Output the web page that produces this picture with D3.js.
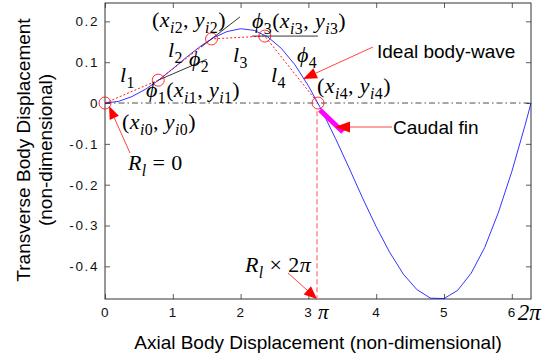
<!DOCTYPE html>
<html><head><meta charset="utf-8">
<script src="https://cdn.jsdelivr.net/npm/d3@7"></script>
<style>html,body{margin:0;padding:0;background:#fff;}</style>
</head><body>
<svg id="c" width="551" height="363"></svg>
<script>
// ---- data ----
const waveX = [0,0.2,0.4,0.6,0.8,1.0,1.2,1.4,1.6,1.8,2.0,2.2,2.4,2.6,2.8,3.0,3.2,3.4,3.6,3.8,4.0,4.2,4.4,4.6,4.8,5.0,5.2,5.4,5.6,5.8,6.0,6.2,6.283];
const waveY = [0,0.004,0.016,0.034,0.057,0.084,0.112,0.138,0.160,0.175,0.182,0.178,0.162,0.134,0.094,0.042,-0.019,-0.087,-0.159,-0.233,-0.303,-0.366,-0.419,-0.457,-0.478,-0.479,-0.459,-0.417,-0.354,-0.269,-0.168,-0.052,0];
const jointX = [0, 0.785, 1.571, 2.356, 3.142];
const jointY = [0, 0.056, 0.157, 0.164, 0];
const finX = [3.17, 3.51];
const finY = [-0.017, -0.071];
const xTicks = [0,1,2,3,4,5,6];
const xTickLabels = ["0","1","2","3","4","5","6"];
const yTicks = [0.2,0.1,0,-0.1,-0.2,-0.3,-0.4];
const yTickLabels = ["0.2","0.1","0","-0.1","-0.2","-0.3","-0.4"];
const xDomain = [0, 2*Math.PI];
const yDomain = [-0.48, 0.245];

const svg = d3.select("#c");
const L=105, R=531, T=3, B=299;
const x = d3.scaleLinear().domain(xDomain).range([L,R]);
const y = d3.scaleLinear().domain(yDomain).range([B,T]);
const SANS = "'Liberation Sans', Arial, Helvetica, sans-serif";
const SERIF = "'Liberation Serif', 'DejaVu Serif', 'Times New Roman', serif";
const red = "#ff0000";

// axes
const ax = svg.append("g").attr("transform",`translate(0,${B})`)
  .call(d3.axisBottom(x).tickValues(xTicks).tickFormat((d,i)=>xTickLabels[i]).tickSize(-5).tickPadding(8));
const axT = svg.append("g").attr("transform",`translate(0,${T})`)
  .call(d3.axisTop(x).tickValues(xTicks).tickFormat("").tickSize(-5));
const ay = svg.append("g").attr("transform",`translate(${L},0)`)
  .call(d3.axisLeft(y).tickValues(yTicks).tickFormat((d,i)=>yTickLabels[i]).tickSize(-5).tickPadding(6));
const ayR = svg.append("g").attr("transform",`translate(${R},0)`)
  .call(d3.axisRight(y).tickValues(yTicks).tickFormat("").tickSize(-5));
[ax,axT,ay,ayR].forEach(g=>{
  g.select(".domain").remove();
  g.selectAll(".tick line").attr("stroke","#333").attr("stroke-width",0.8);
  g.selectAll(".tick text").attr("font-family",SANS).attr("font-size",13.5).attr("fill","#111").attr("letter-spacing","1.6px");
});
svg.append("rect").attr("x",L).attr("y",T).attr("width",R-L).attr("height",B-T)
  .attr("fill","none").attr("stroke","#333").attr("stroke-width",1);

// extra pi tick labels
svg.append("text").attr("x",x(Math.PI)).attr("y",319).attr("font-family",SERIF).attr("font-style","italic").attr("font-size",21).text("π");
svg.append("text").attr("x",x(6)+6).attr("y",320).attr("font-family",SERIF).attr("font-style","italic").attr("font-size",23).text("2π");

// zero dash-dot line
svg.append("line").attr("x1",L).attr("x2",R).attr("y1",y(0)).attr("y2",y(0))
  .attr("stroke","#222").attr("stroke-width",0.8).attr("stroke-dasharray","6,3,1.5,3");

// pink dashed vertical at pi
svg.append("line").attr("x1",x(Math.PI)-1).attr("x2",x(Math.PI)-1).attr("y1",y(-0.02)).attr("y2",B)
  .attr("stroke","#ff8080").attr("stroke-width",1.4).attr("stroke-dasharray","5,3");

// black extension lines
const seg = (x1,y1,x2,y2)=>svg.append("line").attr("x1",x(x1)).attr("y1",y(y1)).attr("x2",x(x2)).attr("y2",y(y2))
  .attr("stroke","#000").attr("stroke-width",0.8);
{
  const s1 = (jointY[1]-jointY[0])/(jointX[1]-jointX[0]);
  seg(jointX[1],jointY[1],1.5,jointY[1]+s1*(1.5-jointX[1]));
  const s2 = (jointY[2]-jointY[1])/(jointX[2]-jointX[1]);
  seg(1.42,jointY[2]+s2*(1.42-jointX[2]),1.99,jointY[2]+s2*(1.99-jointX[2]));
  seg(2.17,jointY[3],3.14,jointY[3]);
}

// ideal wave
const pts = waveX.map((d,i)=>[d,waveY[i]]);
svg.append("path").attr("d",d3.line().x(d=>x(d[0])).y(d=>y(d[1]))(pts))
  .attr("fill","none").attr("stroke","#0000ff").attr("stroke-width",0.8);

// chord polyline
const jp = jointX.map((d,i)=>[d,jointY[i]]);
svg.append("path").attr("d",d3.line().x(d=>x(d[0])).y(d=>y(d[1]))(jp))
  .attr("fill","none").attr("stroke",red).attr("stroke-width",0.9).attr("stroke-dasharray","2,2");
svg.selectAll("circle.j").data(jp).enter().append("circle").attr("class","j")
  .attr("cx",d=>x(d[0])).attr("cy",d=>y(d[1])).attr("r",6)
  .attr("fill","none").attr("stroke",red).attr("stroke-width",0.8);

// caudal fin
svg.append("line").attr("x1",x(finX[0])).attr("y1",y(finY[0])).attr("x2",x(finX[1])).attr("y2",y(finY[1]))
  .attr("stroke","#ff00ff").attr("stroke-width",5);

// arrows
function arrow(x1,y1,x2,y2,hl,hw){
  const dx=x2-x1, dy=y2-y1, len=Math.hypot(dx,dy), ux=dx/len, uy=dy/len;
  const bx=x2-ux*hl, by=y2-uy*hl;
  svg.append("line").attr("x1",x1).attr("y1",y1).attr("x2",bx).attr("y2",by).attr("stroke","#ff3030").attr("stroke-width",0.9);
  svg.append("path").attr("d",`M${x2},${y2}L${bx-uy*hw/2},${by+ux*hw/2}L${bx+uy*hw/2},${by-ux*hw/2}Z`).attr("fill",red);
}
arrow(130,153,x(0)+4,y(0)+3,13,10);
arrow(288,273,x(Math.PI)-1,B,13,11);
arrow(373,47,303,79,14,11);
arrow(392,127,335,127,15,11);

// math text helper
function mt(px,py,parts,size){
  const t = svg.append("text").attr("x",px).attr("y",py).attr("font-family",SERIF).attr("font-size",size)
    .attr("fill","#000").attr("letter-spacing","0.4px");
  let sub=false;
  parts.forEach(p=>{
    const ts=t.append("tspan").text(p.t);
    if(p.i) ts.attr("font-style","italic");
    if(p.s){ ts.attr("font-size",size*0.72); if(!sub){ts.attr("dy",size*0.28); sub=true;} }
    else if(sub){ ts.attr("dy",-size*0.28); sub=false; }
  });
  return t;
}
const pair = (k)=>[{t:"("},{t:"x",i:1},{t:"i",i:1,s:1},{t:k,s:1},{t:", "},{t:"y",i:1},{t:"i",i:1,s:1},{t:k,s:1},{t:")"}];
const FS=22;
mt(152,27,pair("2"),FS);
mt(252,28,[{t:"ϕ",i:1},{t:"3",s:1}].concat(pair("3")),FS);
mt(146,97,[{t:"ϕ",i:1},{t:"1",s:1}].concat(pair("1")),FS);
mt(122,129,pair("0"),FS);
mt(317,93,pair("4"),FS);
mt(120,82,[{t:"l",i:1},{t:"1",s:1}],FS);
mt(168,57,[{t:"l",i:1},{t:"2",s:1}],FS);
mt(233,62,[{t:"l",i:1},{t:"3",s:1}],FS);
mt(271,82,[{t:"l",i:1},{t:"4",s:1}],FS);
mt(189,66,[{t:"ϕ",i:1},{t:"2",s:1}],FS);
mt(297,62,[{t:"ϕ",i:1},{t:"4",s:1}],FS);
mt(128,170,[{t:"R",i:1},{t:"l",i:1,s:1},{t:"\u2005=\u20050"}],FS);
mt(245,272,[{t:"R",i:1},{t:"l",i:1,s:1},{t:"\u2005×\u20052"},{t:"π",i:1}],FS);

// sans labels
svg.append("text").attr("x",377).attr("y",58).attr("font-family",SANS).attr("font-size",19).text("Ideal body-wave");
svg.append("text").attr("x",393).attr("y",134).attr("font-family",SANS).attr("font-size",19).text("Caudal fin");
svg.append("text").attr("x",(L+R)/2).attr("y",349).attr("text-anchor","middle").attr("font-family",SANS).attr("font-size",19)
  .text("Axial Body Displacement (non-dimensional)");
svg.append("text").attr("transform","translate(30,150) rotate(-90)").attr("text-anchor","middle").attr("font-family",SANS).attr("font-size",19)
  .text("Transverse Body Displacement");
svg.append("text").attr("transform","translate(52,150) rotate(-90)").attr("text-anchor","middle").attr("font-family",SANS).attr("font-size",19)
  .text("(non-dimensional)");
</script>
</body></html>
